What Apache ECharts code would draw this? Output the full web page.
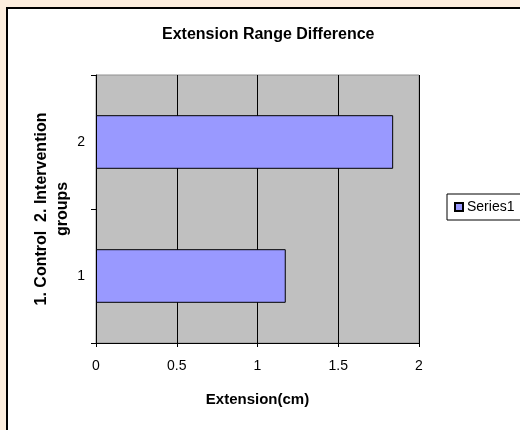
<!DOCTYPE html>
<html>
<head>
<meta charset="utf-8">
<script src="https://cdn.jsdelivr.net/npm/echarts@6/dist/echarts.min.js"></script>
<style>
html, body { margin: 0; padding: 0; background: #fdeede; }
#chart { width: 520px; height: 430px; }
</style>
</head>
<body>
<div id="chart"></div>
<script>
// data
var groups = ['1', '2'];
var extension = [1.175, 1.84];
var xTicks = [0, 0.5, 1, 1.5, 2];

var chart = echarts.init(document.getElementById('chart'));
var option = {
    backgroundColor: '#fdeede',
    animation: false,
    textStyle: { fontFamily: 'Liberation Sans, Arial, sans-serif' },
    graphic: [{
        type: 'rect',
        z: -10,
        shape: { x: 8, y: 9, width: 530, height: 440 },
        style: { fill: '#a0a0a0' }
    }, {
        type: 'rect',
        z: -9,
        shape: { x: 7, y: 8, width: 530, height: 440 },
        style: { fill: '#ffffff', stroke: '#000000', lineWidth: 2 }
    }],
    title: {
        text: 'Extension Range Difference',
        left: 157,
        top: 22,
        textStyle: { fontSize: 16, fontWeight: 'bold', color: '#000000' }
    },
    legend: {
        left: 447,
        top: 194,
        orient: 'vertical',
        padding: [6, 8, 6, 7],
        borderColor: '#000000',
        borderWidth: 1,
        backgroundColor: '#ffffff',
        icon: 'rect',
        itemWidth: 8,
        itemHeight: 8,
        itemGap: 4,
        textStyle: { fontSize: 14, color: '#000000', padding: [0, 0, 0, -1] },
        data: ['Series1']
    },
    grid: {
        left: 96,
        top: 75,
        width: 323,
        height: 268,
        show: true,
        backgroundColor: '#c0c0c0',
        borderColor: '#909090',
        borderWidth: 1
    },
    xAxis: {
        type: 'value',
        min: 0,
        max: 2,
        interval: 0.5,
        name: 'Extension(cm)',
        nameLocation: 'middle',
        nameGap: 49,
        nameMoveOverlap: false,
        nameTextStyle: { fontSize: 15, fontWeight: 'bold', color: '#000000' },
        axisLine: { show: true, lineStyle: { color: '#000000', width: 1 } },
        axisTick: { show: true, length: 4, lineStyle: { color: '#000000' } },
        axisLabel: {
            fontSize: 14,
            color: '#000000',
            margin: 16,
            formatter: function (v) {
                return xTicks.indexOf(v) >= 0 ? String(v) : '';
            }
        },
        splitLine: { show: true, lineStyle: { color: '#000000', width: 1 } }
    },
    yAxis: {
        type: 'category',
        data: groups,
        boundaryGap: true,
        name: '1. Control  2. Intervention\ngroups',
        nameLocation: 'middle',
        nameGap: 23,
        nameMoveOverlap: false,
        nameTextStyle: { fontSize: 16, fontWeight: 'bold', color: '#000000', lineHeight: 21 },
        axisLine: { show: true, lineStyle: { color: '#000000', width: 1 } },
        axisTick: { show: true, length: 5, lineStyle: { color: '#000000' } },
        axisLabel: { fontSize: 14, color: '#000000', margin: 11 },
        splitLine: { show: false }
    },
    series: [{
        name: 'Series1',
        type: 'bar',
        data: extension,
        barCategoryGap: '60%',
        itemStyle: { color: '#9999ff', borderColor: '#000000', borderWidth: 1 }
    }]
};
chart.setOption(option);
</script>
</body>
</html>
